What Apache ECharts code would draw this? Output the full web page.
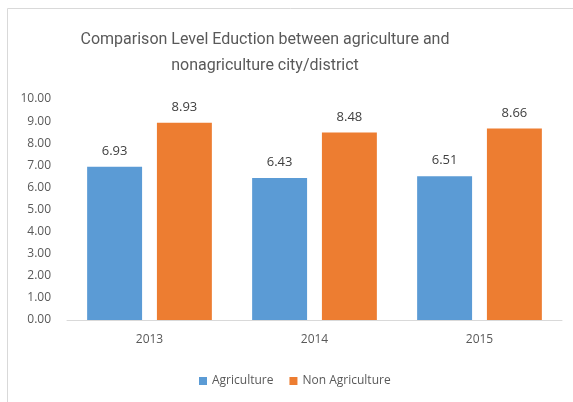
<!DOCTYPE html>
<html>
<head>
<meta charset="utf-8">
<script src="https://cdn.jsdelivr.net/npm/echarts@6/dist/echarts.min.js"></script>
<style>html,body{margin:0;padding:0;background:#fff}#c{width:573px;height:402px}</style>
</head>
<body>
<div id="c"></div>
<script>
const categories = ['2013', '2014', '2015'];
const agriculture = [6.93, 6.43, 6.51];
const nonAgriculture = [8.93, 8.48, 8.66];
const seriesNames = ['Agriculture', 'Non Agriculture'];
const titleText = 'Comparison Level Eduction between agriculture and\nnonagriculture city/district';

const chart = echarts.init(document.getElementById('c'));
const font = '"Open Sans", "Liberation Sans", sans-serif';
const labelStyle = {show: true, position: 'top', distance: 9, color: '#404040', fontSize: 13, fontFamily: font, formatter: p => p.value.toFixed(2)};
chart.setOption({
  animation: false,
  graphic: [{type: 'rect', shape: {x: 7.5, y: 8.5, width: 600, height: 420}, style: {fill: 'none', stroke: '#d9d9d9', lineWidth: 1}, silent: true}],
  title: {text: titleText, left: 260, textAlign: 'center', top: 22, textStyle: {fontFamily: 'Roboto, "Open Sans", sans-serif', fontSize: 16, fontWeight: 'normal', color: '#595959', lineHeight: 26}},
  legend: {top: 370, left: 194, itemWidth: 8, itemHeight: 8, itemGap: 16, icon: 'rect', textStyle: {fontFamily: font, fontSize: 12, color: '#595959'}, data: seriesNames},
  grid: {left: 67, right: 11, top: 99, bottom: 82},
  xAxis: {type: 'category', data: categories, axisLine: {lineStyle: {color: '#d9d9d9'}}, axisTick: {show: false}, axisLabel: {color: '#595959', fontSize: 12, fontFamily: font, margin: 14}},
  yAxis: {type: 'value', min: 0, max: 10, interval: 1, axisLine: {show: false}, axisTick: {show: false}, splitLine: {show: false}, axisLabel: {color: '#595959', fontSize: 12, fontFamily: font, formatter: v => v.toFixed(2), margin: 16}},
  series: [
    {name: seriesNames[0], type: 'bar', data: agriculture, barWidth: '33.3%', barGap: '27%', itemStyle: {color: '#5B9BD5'}, label: labelStyle},
    {name: seriesNames[1], type: 'bar', data: nonAgriculture, barWidth: '33.3%', itemStyle: {color: '#ED7D31'}, label: labelStyle}
  ]
});
</script>
</body>
</html>
